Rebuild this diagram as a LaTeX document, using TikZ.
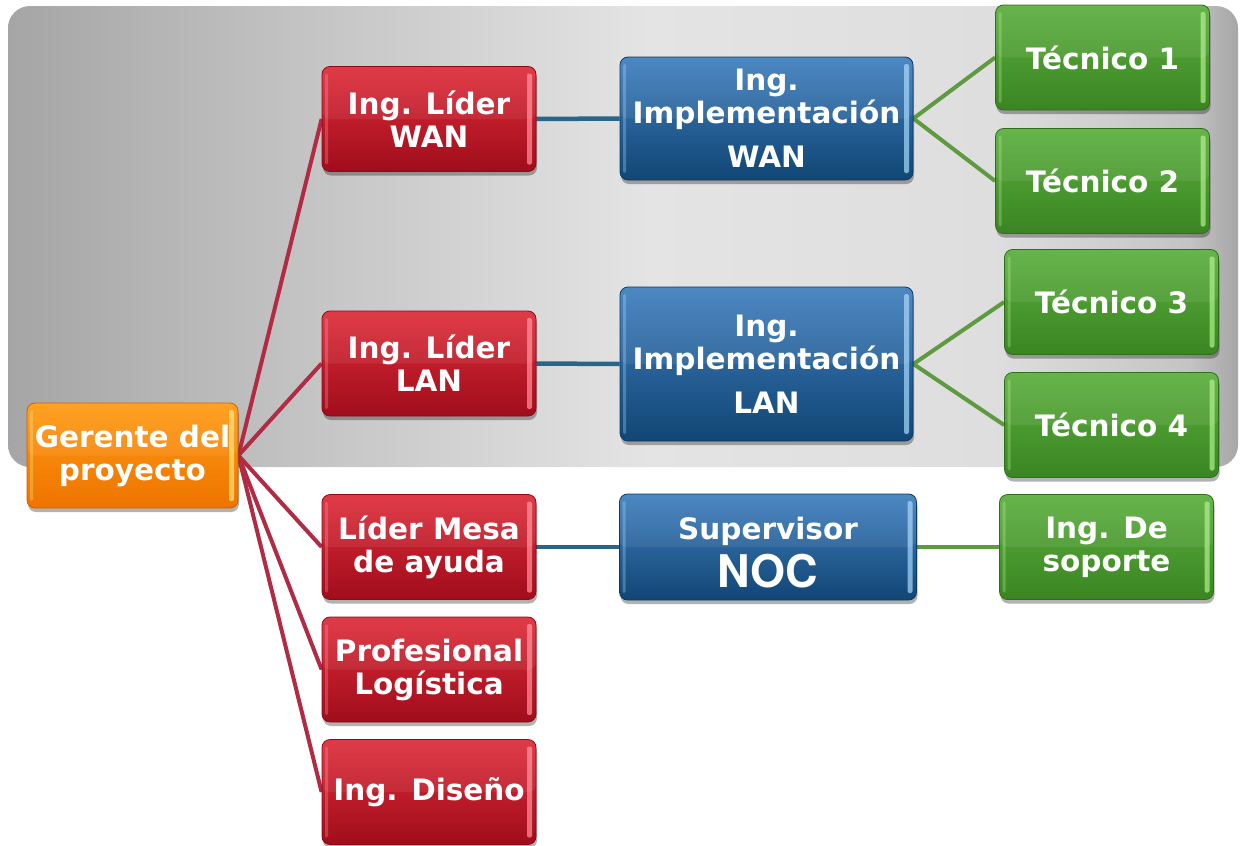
\documentclass[tikz,border=0pt]{standalone}
\usepackage{fontspec}
\setmainfont{DejaVu Sans}
\newfontfamily\nocfont{texgyreheros-bold.otf}
\usetikzlibrary{shadows,backgrounds}

% box colours: top, bottom, edge, highlight
\definecolor{redT}{HTML}{DE2C39}
\definecolor{redB}{HTML}{A00D1B}
\definecolor{redE}{HTML}{8C0A16}
\definecolor{redH}{HTML}{FF8A94}
\definecolor{blueT}{HTML}{3F7FBE}
\definecolor{blueB}{HTML}{114675}
\definecolor{blueE}{HTML}{0D3A63}
\definecolor{blueH}{HTML}{9FD0F5}
\definecolor{greenT}{HTML}{5CAF3E}
\definecolor{greenB}{HTML}{3A8522}
\definecolor{greenE}{HTML}{2F6E1B}
\definecolor{greenH}{HTML}{A8EC84}
\definecolor{orangeT}{HTML}{FF9A12}
\definecolor{orangeB}{HTML}{EE7400}
\definecolor{orangeE}{HTML}{D06000}
\definecolor{orangeH}{HTML}{FFE070}
% connector colours
\definecolor{linkRed}{HTML}{B02B43}
\definecolor{linkBlue}{HTML}{2A6487}
\definecolor{linkGreen}{HTML}{5E9A40}
% panel gradient
\definecolor{bgA}{HTML}{A5A5A5}
\definecolor{bgB}{HTML}{C6C6C6}
\definecolor{bgC}{HTML}{E4E4E4}
\definecolor{bgD}{HTML}{DEDEDE}
\definecolor{bgE}{HTML}{C4C4C4}
\definecolor{bgF}{HTML}{A6A6A6}

\pgfdeclarehorizontalshading{bgpanel}{100bp}{%
  color(0bp)=(bgA); color(25bp)=(bgA); color(38bp)=(bgB);
  color(51bp)=(bgC); color(65bp)=(bgD); color(73bp)=(bgE);
  color(75bp)=(bgF); color(100bp)=(bgF)}

\newcommand\cardfont{\bfseries\fontsize{29.5}{33}\selectfont}

\tikzset{
  card/.style n args={4}{rectangle, rounded corners=8pt, inner sep=0pt,
    align=center, text=white, font=\cardfont,
    top color=#1, bottom color=#2, draw=#3, line width=0.8pt,
    drop shadow={shadow xshift=1pt, shadow yshift=-4pt, opacity=0.3, fill=black},
    path picture={
      \fill[#4, opacity=0.75, rounded corners=2pt]
        ([xshift=-9pt,yshift=-7pt]path picture bounding box.north east) rectangle
        ([xshift=-4pt,yshift=7pt]path picture bounding box.south east);
      \fill[#4, opacity=0.35, rounded corners=1.5pt]
        ([xshift=3pt,yshift=-7pt]path picture bounding box.north west) rectangle
        ([xshift=6pt,yshift=7pt]path picture bounding box.south west);
      \fill[white, opacity=0.07]
        (path picture bounding box.north west) rectangle
        (path picture bounding box.east);
    }},
  redcard/.style={card={redT}{redB}{redE}{redH}, minimum width=214pt, minimum height=105pt},
  bluecard/.style={card={blueT}{blueB}{blueE}{blueH}, minimum width=293pt},
  greencard/.style={card={greenT}{greenB}{greenE}{greenH}, minimum width=214pt, minimum height=105pt},
  orangecard/.style={card={orangeT}{orangeB}{orangeE}{orangeH}, minimum width=211pt, minimum height=105pt},
  redlink/.style={draw=linkRed, line width=4pt},
  bluelink/.style={draw=linkBlue, line width=4.5pt},
  greenlink/.style={draw=linkGreen, line width=4pt},
}

\begin{document}
\begin{tikzpicture}[x=1pt, y=-1pt]
\useasboundingbox (0,0) rectangle (1245,846);

% root
\node[orangecard] (gerente) at (132.5,455.5) {Gerente del\\proyecto};

% second level
\node[redcard] (liderwan)  at (429,119)   {Ing. Líder\\WAN};
\node[redcard] (liderlan)  at (429,363.5) {Ing. Líder\\LAN};
\node[redcard] (mesa)      at (429,547)   {Líder Mesa\\de ayuda};
\node[redcard] (logistica) at (429,669.5) {Profesional\\Logística};
\node[redcard] (diseno)    at (429,792)   {Ing. Diseño};

% third level
\node[bluecard, minimum height=123pt] (implwan) at (766.5,118.5)
  {Ing.\\Implementación\\[11pt]WAN};
\node[bluecard, minimum height=154pt] (impllan) at (766.5,364)
  {Ing.\\Implementación\\[11pt]LAN};
\node[bluecard, minimum width=297pt, minimum height=106pt] (noc) at (768,547)
  {\rule{0pt}{34pt}Supervisor\\[8pt]{\nocfont\fontsize{45}{45}\selectfont NOC}};

% fourth level
\node[greencard] (tec1)    at (1102.5,57.5) {Técnico 1};
\node[greencard] (tec2)    at (1102.5,181)  {Técnico 2};
\node[greencard] (tec3)    at (1111.5,302)  {Técnico 3};
\node[greencard] (tec4)    at (1111.5,425)  {Técnico 4};
\node[greencard] (soporte) at (1106.5,547)  {Ing. De\\soporte};

\begin{scope}[on background layer]
  % grey panel behind the upper rows
  \shade[shading=bgpanel, rounded corners=22pt] (8,6) rectangle (1238,467);

  % connectors
  \foreach \t in {liderwan,liderlan,mesa,logistica,diseno}
    \path[redlink] (gerente.east) -- (\t.west);
  \path[bluelink] (liderwan.east) -- (implwan.west);
  \path[bluelink] (liderlan.east) -- (impllan.west);
  \path[bluelink] (mesa.east) -- (noc.west);
  \path[greenlink] (implwan.east) -- (tec1.west);
  \path[greenlink] (implwan.east) -- (tec2.west);
  \path[greenlink] (impllan.east) -- (tec3.west);
  \path[greenlink] (impllan.east) -- (tec4.west);
  \path[greenlink] (noc.east) -- (soporte.west);
\end{scope}
\end{tikzpicture}
\end{document}
